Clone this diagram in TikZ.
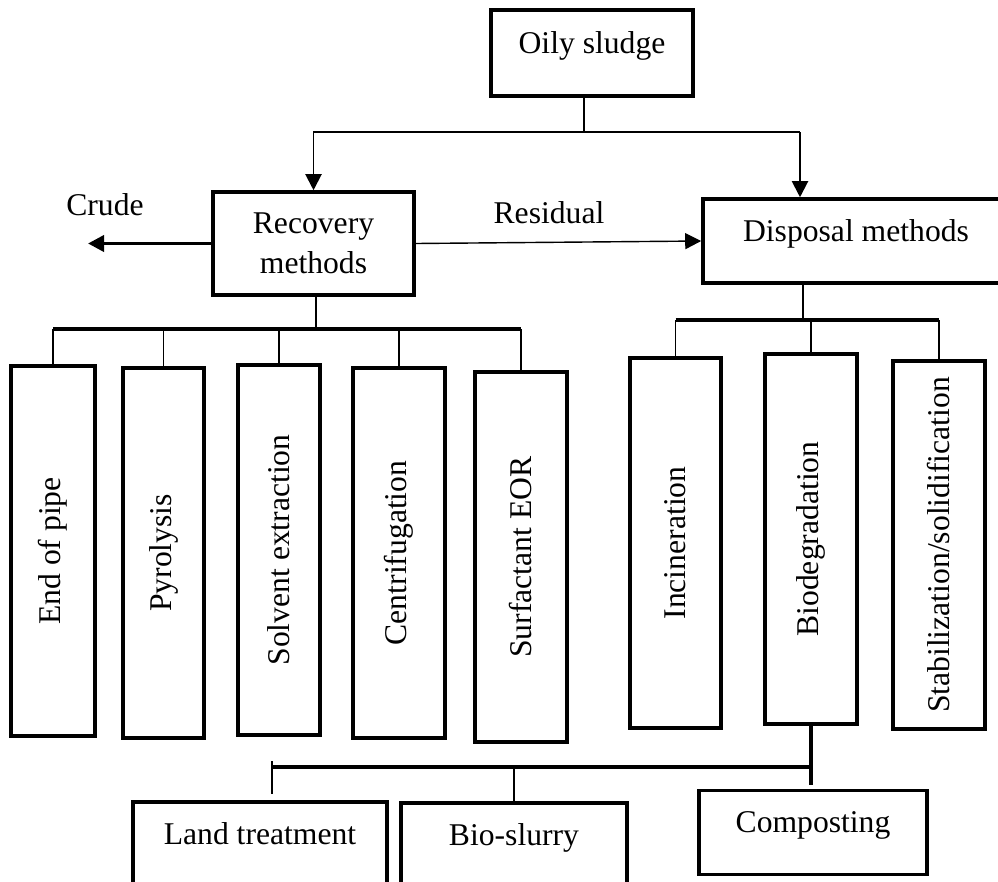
\documentclass[tikz,border=0pt]{standalone}
\usepackage{fontspec}
\setmainfont{Liberation Serif}
\usetikzlibrary{arrows.meta,calc,positioning}

\begin{document}
\begin{tikzpicture}[
    x=0.025cm, y=-0.025cm,
    every node/.append style={font=\fontsize{22.5}{28.4}\selectfont},
    box/.style={draw,line width=2.5pt,inner sep=0pt,align=center},
    hbox/.style={box,text height=1.05cm,text depth=1.05cm},
    vbox/.style={box,rotate=90,minimum width=9.25cm},
    link/.style={line width=1pt},
    bar/.style={line width=2.2pt},
    flow/.style={-{Triangle[length=0.4cm,width=0.4cm]}}
  ]
  \useasboundingbox (0,0) rectangle (998,881);

  % top level
  \node (sludge) [hbox,minimum width=5.05cm,text height=1.075cm,text depth=1.075cm] at (592,53) {Oily sludge};
  \node (recov) [box,minimum width=5.025cm,minimum height=2.575cm] at (313.5,243.5) {Recovery\\methods};
  \node (disp) [hbox,minimum width=7.65cm] at (856,241) {Disposal methods};
  \node (crude) at (105,205) {Crude};
  \node (resid) at (549,213) {Residual};

  \coordinate (split) at (584,132);
  \coordinate (rjoin) at (800,132);
  \coordinate (crudeout) at (88,243.5);
  \draw[link] (sludge.south -| split) -- (split);
  \draw[link,line width=1.4pt,flow] (split) -| (recov.north);
  \draw[link,line width=1.6pt] (split) -- (rjoin);
  \draw[link,line width=1.4pt,flow] (rjoin) -- (rjoin |- disp.north);
  \draw[bar,line width=2.6pt,flow] (recov.west) -- (crudeout);
  \draw[link,flow] (recov.east) -- (disp.west);

  % recovery methods
  \node (endpipe) [vbox,minimum height=2.1cm]   at (53,551)    {End of pipe};
  \node (pyro)    [vbox,minimum height=2.025cm] at (163.5,553) {Pyrolysis};
  \node (solvent) [vbox,minimum height=2.05cm]  at (279,550)   {Solvent extraction};
  \node (centri)  [vbox,minimum height=2.3cm]   at (399,553)   {Centrifugation};
  \node (surf)    [vbox,minimum height=2.3cm]   at (521,557)   {Surfactant EOR};

  \coordinate (rsplit) at (316,329);
  \draw[link] (recov.south -| rsplit) -- (rsplit);
  \draw[bar] (endpipe.east |- rsplit) -- (surf.east |- rsplit);
  \foreach \n in {endpipe,pyro,solvent,centri,surf}
    \draw[link] (\n.east |- rsplit) -- (\n.east);

  % disposal methods
  \node (incin)  [vbox,minimum height=2.275cm] at (675.5,543) {Incineration};
  \node (biodeg) [vbox,minimum height=2.3cm]   at (811,539)   {Biodegradation};
  \node (stab)   [vbox,minimum height=2.3cm,minimum width=9.2cm] at (939,545) {Stabilization/solidification};

  \coordinate (dsplit) at (803,320);
  \draw[link] (disp.south -| dsplit) -- (dsplit);
  \draw[bar] (incin.east |- dsplit) -- (stab.east |- dsplit);
  \foreach \n in {incin,biodeg,stab}
    \draw[link] (\n.east |- dsplit) -- (\n.east);

  % biodegradation
  \node (land)    [hbox,minimum width=6.35cm] at (260,844)   {Land treatment};
  \node (slurry)  [hbox,minimum width=5.65cm] at (514,845)   {Bio-slurry};
  \node (compost) [hbox,minimum width=5.7cm]  at (813,832.5) {Composting};

  \coordinate (bsplit) at (272,767);
  \draw[bar] (biodeg.west) -- ($(biodeg.west |- compost.north)+(0,-4)$);
  \draw[bar] (bsplit) -- (biodeg.west |- bsplit);
  \draw[link] ($(bsplit)+(0,-6)$) -- ($(bsplit |- land.north)+(0,-6)$);
  \draw[link] (slurry.north |- bsplit) -- (slurry.north);
\end{tikzpicture}
\end{document}
